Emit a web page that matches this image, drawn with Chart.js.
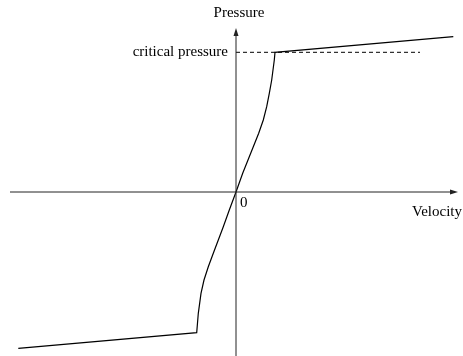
<!DOCTYPE html>
<html>
<head>
<meta charset="utf-8">
<script src="https://cdn.jsdelivr.net/npm/chart.js@4"></script>
<style>
  html, body { margin: 0; padding: 0; background: #fff; }
  canvas { display: block; }
</style>
</head>
<body>
<canvas id="pvChart" width="463" height="356"></canvas>
<script>
// ====== DATA ======
// velocity / pressure pairs along the characteristic, origin at (0, 0)
const velocity = [-217.7, -39.3, -37.7, -35, -32, -27.7, -22.7, -17.7, -12.7, -6.7, 0,
                  6.7, 12, 17.3, 22.7, 27.3, 30.7, 33.3, 35.7, 38.3, 39, 217.3];
const pressure = [-156.3, -140.7, -121.3, -101.3, -88, -74.7, -61.3, -48, -34.7, -18, 0,
                  18.7, 32, 45.3, 58.7, 72, 85.3, 98.7, 112, 132, 139.7, 155.3];
const criticalPressure = 139.7;
const criticalLineEnd = 184;
const axisX = [-226, 222];   // velocity axis extent
const axisY = [-164, 164];   // pressure axis extent
const labelPressure = 'Pressure';
const labelVelocity = 'Velocity';
const labelCritical = 'critical pressure';
const labelOrigin = '0';

const curvePoints = velocity.map((v, i) => ({ x: v, y: pressure[i] }));

// ====== ARROWS + LABELS ======
const decorPlugin = {
    id: 'decor',
    afterDatasetsDraw(chart) {
        const ctx = chart.ctx;
        const xs = chart.scales.x, ys = chart.scales.y;
        const ox = xs.getPixelForValue(0), oy = ys.getPixelForValue(0);

        ctx.save();
        ctx.fillStyle = '#222';
        // arrowhead on velocity axis
        const tipX = xs.getPixelForValue(axisX[1]);
        ctx.beginPath();
        ctx.moveTo(tipX, oy);
        ctx.lineTo(tipX - 8, oy - 2.5);
        ctx.lineTo(tipX - 8, oy + 2.5);
        ctx.closePath();
        ctx.fill();
        // arrowhead on pressure axis
        const tipY = ys.getPixelForValue(axisY[1]);
        ctx.beginPath();
        ctx.moveTo(ox, tipY);
        ctx.lineTo(ox - 2.5, tipY + 8);
        ctx.lineTo(ox + 2.5, tipY + 8);
        ctx.closePath();
        ctx.fill();

        ctx.fillStyle = '#000';
        ctx.font = '15px "Liberation Serif", "Times New Roman", serif';
        ctx.textBaseline = 'middle';
        ctx.textAlign = 'center';
        ctx.fillText(labelPressure, ox + 3, tipY - 15);
        ctx.textAlign = 'right';
        ctx.fillText(labelCritical, ox - 8, ys.getPixelForValue(criticalPressure));
        ctx.textAlign = 'left';
        ctx.fillText(labelOrigin, ox + 4, oy + 11);
        ctx.fillText(labelVelocity, tipX - 46, oy + 20);
        ctx.restore();
    }
};

// ====== CHART ======
const ctx = document.getElementById('pvChart').getContext('2d');
new Chart(ctx, {
    type: 'scatter',
    data: {
        datasets: [
            { data: [{ x: axisX[0], y: 0 }, { x: axisX[1] - 4, y: 0 }], borderColor: '#222', borderWidth: 1, showLine: true, pointRadius: 0 },
            { data: [{ x: 0, y: axisY[0] }, { x: 0, y: axisY[1] - 4 }], borderColor: '#222', borderWidth: 1, showLine: true, pointRadius: 0 },
            { data: [{ x: 0, y: criticalPressure }, { x: criticalLineEnd, y: criticalPressure }], borderColor: '#000', borderWidth: 1, borderDash: [4, 3], showLine: true, pointRadius: 0 },
            { data: curvePoints, borderColor: '#000', borderWidth: 1.2, showLine: true, tension: 0, pointRadius: 0 }
        ]
    },
    options: {
        responsive: false,
        animation: false,
        layout: { padding: 0 },
        plugins: { legend: { display: false }, tooltip: { enabled: false } },
        scales: {
            x: { type: 'linear', min: -236, max: 227, display: false },
            y: { type: 'linear', min: -164, max: 192, display: false }
        }
    },
    plugins: [decorPlugin]
});
</script>
</body>
</html>
